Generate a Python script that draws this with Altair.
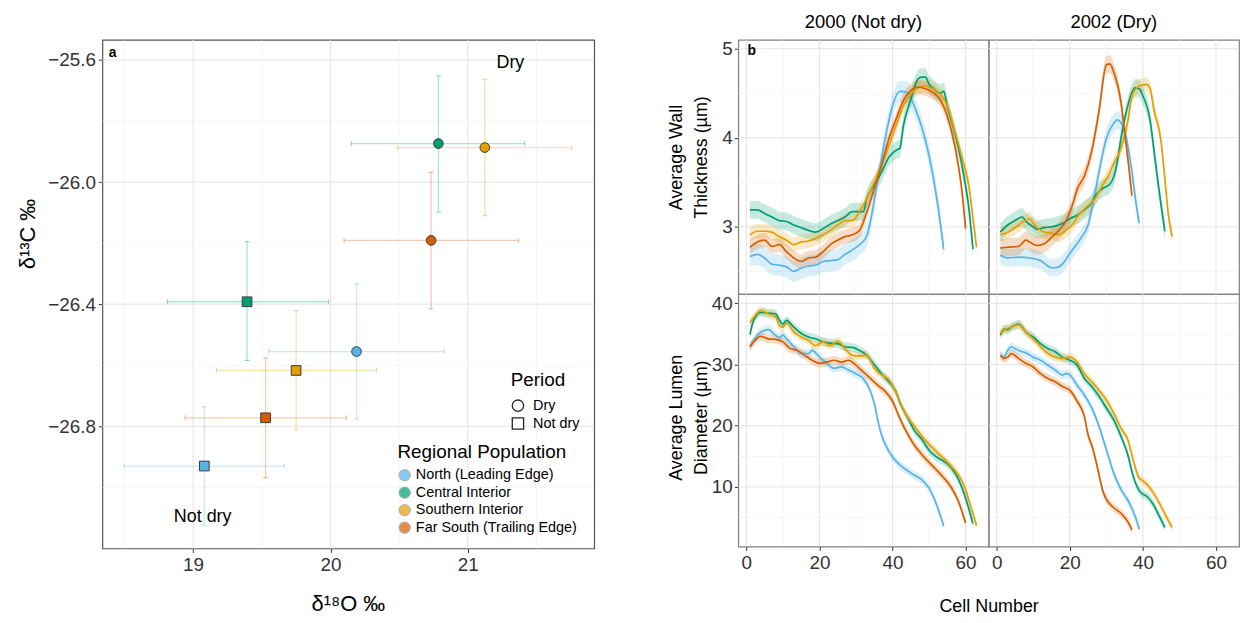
import altair as alt
import pandas as pd

FONT = "Liberation Sans"

REGIONS = ["North (Leading Edge)", "Central Interior", "Southern Interior", "Far South (Trailing Edge)"]
REGION_COLORS = ["#56B4E9", "#009E73", "#E69F00", "#D55E00"]
PERIODS = ["Dry", "Not dry"]
PERIOD_SHAPES = ["circle", "square"]

# ---------------- panel a : isotope means with error bars ----------------
ISO_REGION = REGIONS + REGIONS
ISO_PERIOD = ["Dry"] * 4 + ["Not dry"] * 4
D18O_MEAN = [20.19, 20.786, 21.124, 20.733, 19.082, 19.393, 19.75, 19.528]
D18O_LO = [19.552, 20.152, 20.49, 20.099, 18.499, 18.814, 19.171, 18.942]
D18O_HI = [20.827, 21.414, 21.755, 21.37, 19.665, 19.986, 20.335, 20.116]
D13C_MEAN = [-26.555, -25.874, -25.887, -26.191, -26.93, -26.392, -26.617, -26.772]
D13C_LO = [-26.776, -26.098, -26.110, -26.415, -27.124, -26.584, -26.812, -26.968]
D13C_HI = [-26.334, -25.652, -25.664, -25.968, -26.736, -26.195, -26.421, -26.576]

A_X_TICKS = [19, 20, 21]
A_X_MINOR = [18.5, 19.5, 20.5, 21.5]
A_Y_TICKS = [-25.6, -26.0, -26.4, -26.8]
A_Y_MINOR = [-25.8, -26.2, -26.6, -27.0]

ANN_TEXT = ["Dry", "Not dry"]
ANN_X = [21.31, 19.07]
ANN_Y = [-25.609, -27.098]

# ---------------- panel b : tracheid profiles ----------------
WT2000_NORTH_CELL = [1, 3, 5, 7, 9, 11, 13, 15, 17, 19, 21, 23, 25, 27, 29, 31, 33, 34, 36, 38, 40, 42, 44, 46, 48, 50, 52, 54]
WT2000_NORTH = [2.665, 2.69, 2.65, 2.58, 2.57, 2.55, 2.50, 2.535, 2.56, 2.57, 2.61, 2.62, 2.63, 2.69, 2.74, 2.80, 2.90, 3.07, 3.54, 3.99, 4.36, 4.52, 4.51, 4.35, 4.12, 3.80, 3.35, 2.75]
WT2000_CENTRAL_CELL = [1, 3, 5, 7, 9, 11, 13, 15, 17, 19, 21, 23, 25, 27, 29, 31, 32, 33, 35, 37, 39, 41, 42, 43, 45, 47, 48, 49, 50, 51, 53, 54, 55, 57, 59, 61, 62]
WT2000_CENTRAL = [3.19, 3.19, 3.15, 3.11, 3.07, 3.06, 3.02, 2.99, 2.96, 2.94, 2.98, 3.03, 3.07, 3.11, 3.17, 3.17, 3.17, 3.32, 3.47, 3.61, 3.78, 3.86, 3.88, 4.14, 4.43, 4.66, 4.68, 4.68, 4.60, 4.56, 4.50, 4.52, 4.35, 4.06, 3.69, 3.17, 2.75]
WT2000_SOUTH_CELL = [1, 3, 5, 7, 9, 11, 13, 15, 17, 19, 21, 23, 25, 27, 29, 31, 33, 35, 37, 39, 41, 43, 45, 47, 49, 51, 53, 55, 57, 59, 61, 62, 63]
WT2000_SOUTH = [2.91, 2.95, 2.95, 2.94, 2.89, 2.85, 2.80, 2.83, 2.84, 2.87, 2.91, 2.96, 3.02, 3.07, 3.07, 3.17, 3.32, 3.50, 3.69, 3.91, 4.14, 4.36, 4.49, 4.56, 4.58, 4.55, 4.49, 4.36, 4.08, 3.78, 3.43, 3.10, 2.77]
WT2000_FARSOUTH_CELL = [1, 3, 5, 7, 9, 11, 13, 15, 17, 19, 21, 23, 25, 27, 29, 31, 33, 35, 37, 39, 41, 43, 45, 47, 49, 51, 53, 55, 57, 59, 60]
WT2000_FARSOUTH = [2.77, 2.83, 2.85, 2.78, 2.80, 2.72, 2.65, 2.61, 2.65, 2.66, 2.72, 2.80, 2.85, 2.89, 2.91, 2.96, 3.17, 3.43, 3.69, 3.99, 4.21, 4.42, 4.53, 4.57, 4.55, 4.51, 4.43, 4.24, 3.92, 3.40, 2.98]

WT2002_NORTH_CELL = [1, 3, 6, 9, 12, 15, 16, 18, 20, 23, 25, 27, 28, 30, 32, 33, 34, 35, 36, 37, 38, 39]
WT2002_NORTH = [2.68, 2.65, 2.66, 2.65, 2.62, 2.54, 2.54, 2.58, 2.70, 2.87, 3.02, 3.40, 3.62, 3.99, 4.16, 4.20, 4.17, 4.08, 3.88, 3.62, 3.30, 3.04]
WT2002_CENTRAL_CELL = [1, 3, 5, 7, 8, 10, 11, 13, 15, 17, 19, 20, 22, 24, 26, 27, 29, 31, 32, 33, 34, 36, 37, 38, 39, 40, 42, 43, 44, 45, 46]
WT2002_CENTRAL = [2.94, 3.02, 3.07, 3.11, 3.06, 3.00, 2.97, 2.99, 3.00, 3.02, 3.06, 3.09, 3.13, 3.19, 3.27, 3.35, 3.43, 3.48, 3.56, 3.73, 3.99, 4.38, 4.51, 4.56, 4.55, 4.47, 4.19, 3.87, 3.54, 3.24, 2.95]
WT2002_SOUTH_CELL = [1, 3, 5, 7, 9, 10, 12, 13, 15, 17, 19, 21, 22, 24, 27, 29, 31, 32, 34, 36, 37, 39, 41, 42, 43, 45, 46, 47, 48]
WT2002_SOUTH = [2.91, 2.94, 2.99, 3.05, 3.09, 3.04, 2.96, 2.94, 2.93, 2.91, 2.96, 3.04, 3.11, 3.20, 3.32, 3.47, 3.61, 3.71, 3.88, 4.21, 4.47, 4.58, 4.60, 4.55, 4.32, 3.95, 3.54, 3.13, 2.89]
WT2002_FARSOUTH_CELL = [1, 3, 6, 8, 9, 11, 13, 15, 17, 19, 21, 22, 24, 26, 28, 30, 31, 32, 34, 35, 36, 37]
WT2002_FARSOUTH = [2.76, 2.77, 2.78, 2.85, 2.83, 2.79, 2.81, 2.88, 2.96, 3.07, 3.28, 3.42, 3.57, 3.85, 4.30, 4.82, 4.83, 4.74, 4.40, 4.06, 3.73, 3.35]

LD2000_NORTH_CELL = [1, 2, 4, 6, 8, 9, 10, 11, 13, 15, 17, 18, 20, 22, 24, 26, 28, 30, 32, 34, 35, 36, 37, 38, 40, 42, 44, 46, 48, 50, 52, 54]
LD2000_NORTH = [32.9, 33.9, 35.3, 35.7, 34.8, 34.4, 34.8, 34.2, 32.9, 31.8, 31.8, 32.3, 31.2, 30.2, 29.4, 29.6, 29.1, 28.5, 27.7, 25.6, 23.7, 20.8, 18.5, 17.0, 14.9, 13.6, 12.7, 11.9, 11.2, 9.8, 7.2, 3.6]
LD2000_CENTRAL_CELL = [1, 2, 4, 6, 8, 9, 10, 11, 13, 15, 17, 19, 21, 23, 25, 27, 29, 31, 33, 35, 37, 39, 41, 42, 44, 46, 48, 50, 52, 54, 56, 58, 60, 61, 62]
LD2000_CENTRAL = [34.9, 37.2, 38.5, 38.4, 38.3, 37.3, 36.6, 37.2, 36.1, 35.1, 34.5, 34.2, 33.7, 33.5, 33.4, 32.9, 32.8, 32.3, 31.5, 30.0, 28.5, 27.2, 25.5, 23.8, 21.5, 19.2, 17.8, 16.0, 14.9, 14.2, 13.2, 11.3, 8.2, 6.2, 4.0]
LD2000_SOUTH_CELL = [1, 2, 4, 6, 8, 9, 10, 11, 13, 15, 17, 19, 21, 23, 25, 27, 29, 31, 33, 35, 37, 39, 41, 43, 46, 49, 52, 56, 58, 60, 61, 63]
LD2000_SOUTH = [36.8, 37.7, 38.8, 38.3, 37.8, 36.4, 36.1, 36.8, 35.3, 34.5, 33.9, 33.1, 33.7, 33.1, 33.8, 32.6, 31.5, 31.4, 31.5, 29.4, 28.3, 27.5, 25.4, 22.6, 19.9, 17.6, 15.8, 13.4, 12.0, 9.6, 7.6, 3.7]
LD2000_FARSOUTH_CELL = [1, 2, 4, 6, 8, 10, 12, 14, 16, 18, 20, 22, 24, 26, 28, 30, 32, 34, 36, 38, 40, 42, 44, 46, 48, 50, 52, 54, 56, 58, 60]
LD2000_FARSOUTH = [32.9, 33.7, 34.6, 34.2, 34.1, 33.7, 32.6, 32.3, 31.5, 30.7, 30.2, 30.4, 30.7, 30.4, 30.7, 29.9, 28.8, 27.7, 26.6, 25.6, 24.0, 21.2, 18.8, 16.8, 15.3, 14.0, 12.8, 11.5, 10.0, 7.7, 4.1]

LD2002_NORTH_CELL = [1, 2, 3, 4, 5, 6, 8, 10, 12, 14, 16, 18, 19, 20, 22, 24, 26, 28, 30, 32, 34, 36, 38, 39]
LD2002_NORTH = [31.5, 31.2, 32.3, 32.9, 32.6, 32.3, 31.9, 31.2, 30.7, 29.9, 29.1, 28.3, 28.5, 28.3, 26.6, 25.0, 22.9, 19.9, 16.1, 12.3, 9.6, 7.7, 5.0, 3.1]
LD2002_CENTRAL_CELL = [1, 2, 3, 4, 5, 6, 7, 8, 10, 12, 14, 16, 18, 20, 22, 24, 26, 28, 30, 32, 34, 36, 37, 39, 40, 41, 43, 44, 46]
LD2002_CENTRAL = [34.8, 35.8, 35.7, 36.1, 36.4, 36.6, 36.1, 35.3, 34.5, 33.4, 32.6, 32.1, 31.2, 30.7, 29.9, 27.7, 26.4, 24.8, 22.9, 21.0, 18.3, 15.0, 12.5, 9.4, 8.8, 8.5, 7.0, 5.8, 3.4]
LD2002_SOUTH_CELL = [1, 2, 4, 6, 8, 10, 12, 14, 16, 18, 20, 22, 24, 26, 28, 30, 32, 34, 36, 37, 38, 39, 40, 41, 43, 45, 46, 48]
LD2002_SOUTH = [35.1, 35.6, 36.1, 36.5, 35.3, 34.2, 32.9, 31.8, 31.2, 31.0, 31.2, 30.4, 28.5, 27.2, 25.8, 24.2, 22.1, 19.6, 17.5, 15.2, 13.0, 11.4, 11.0, 10.5, 8.9, 6.8, 5.6, 3.4]
LD2002_FARSOUTH_CELL = [1, 2, 3, 4, 6, 8, 10, 12, 14, 16, 18, 20, 22, 24, 25, 26, 27, 28, 29, 30, 32, 34, 36, 37]
LD2002_FARSOUTH = [31.5, 31.0, 31.2, 31.8, 31.0, 30.2, 29.6, 28.5, 27.7, 27.2, 26.4, 25.8, 24.0, 21.5, 18.5, 16.8, 14.6, 12.0, 9.4, 8.0, 6.6, 5.7, 4.2, 3.0]

# half-width of the shaded confidence ribbon, in region order
WT2000_BAND = [0.12, 0.10, 0.08, 0.08]
WT2002_BAND = [0.10, 0.10, 0.08, 0.10]
LD2000_BAND = [0.7, 0.7, 0.7, 0.7]
LD2002_BAND = [0.7, 0.7, 0.7, 0.7]

B_X_TICKS = [0, 20, 40, 60]
B_X_MINOR = [10, 30, 50]
WT_TICKS = [3, 4, 5]
WT_MINOR = [2.5, 3.5, 4.5]
LD_TICKS = [10, 20, 30, 40]
LD_MINOR = [5, 15, 25, 35]

COL_TITLES = ["2000 (Not dry)", "2002 (Dry)"]
WT_TITLE = ["Average Wall", "Thickness (µm)"]
LD_TITLE = ["Average Lumen", "Diameter (µm)"]

# ------------------------------------------------------------------
col_scale = alt.Scale(domain=REGIONS, range=REGION_COLORS)
MAJOR_GRID = "#e4e4e4"
MINOR_GRID = "#f0f0f0"


def grid_layers(xmaj, xmin, ymaj, ymin, xs, ys, ax_x, ax_y):
    out = []
    for vals, w, c in [(xmin, 0.6, MINOR_GRID), (xmaj, 1.0, MAJOR_GRID)]:
        out.append(alt.Chart(pd.DataFrame({"gx": vals})).mark_rule(color=c, strokeWidth=w).encode(
            x=alt.X("gx:Q", scale=xs, axis=ax_x)))
    for vals, w, c in [(ymin, 0.6, MINOR_GRID), (ymaj, 1.0, MAJOR_GRID)]:
        out.append(alt.Chart(pd.DataFrame({"gy": vals})).mark_rule(color=c, strokeWidth=w).encode(
            y=alt.Y("gy:Q", scale=ys, axis=ax_y)))
    return out


# ---------------- panel a ----------------
df_iso = pd.DataFrame({
    "region": ISO_REGION, "population": ISO_REGION, "period": ISO_PERIOD,
    "d18o": D18O_MEAN, "x_lo": D18O_LO, "x_hi": D18O_HI,
    "d13c": D13C_MEAN, "y_lo": D13C_LO, "y_hi": D13C_HI,
})
xs_a = alt.Scale(domain=[18.34, 21.92], nice=False, zero=False)
ys_a = alt.Scale(domain=[-27.2, -25.534], nice=False, zero=False)
ax_xa = alt.Axis(values=A_X_TICKS, format="d", title="δ¹⁸O ‰", grid=False, domain=False,
                 tickSize=4, tickColor="#333333", labelFontSize=19, labelColor="#333333", labelPadding=3,
                 titleFontSize=22, titleFontWeight="normal", titleColor="black",
                 titleX=247, titleY=55, titleBaseline="middle", titleAlign="center")
ax_ya = alt.Axis(values=A_Y_TICKS, format=".1f", title="δ¹³C ‰", grid=False, domain=False,
                 tickSize=4, tickColor="#333333", labelFontSize=19, labelColor="#333333", labelPadding=3,
                 titleFontSize=22, titleFontWeight="normal", titleColor="black",
                 titleX=-75, titleY=195, titleAngle=270, titleBaseline="middle", titleAlign="center")

Xa = lambda f: alt.X(f, scale=xs_a, axis=ax_xa)
Ya = lambda f: alt.Y(f, scale=ys_a, axis=ax_ya)
col_enc = alt.Color("region:N", scale=col_scale, legend=None)

hbar = alt.Chart(df_iso).mark_rule(strokeWidth=1.3, opacity=0.3).encode(
    x=Xa("x_lo:Q"), x2="x_hi:Q", y=Ya("d13c:Q"), color=col_enc)
vbar = alt.Chart(df_iso).mark_rule(strokeWidth=1.3, opacity=0.3).encode(
    y=Ya("y_lo:Q"), y2="y_hi:Q", x=Xa("d18o:Q"), color=col_enc)
hcap = alt.Chart(df_iso).transform_fold(["x_lo", "x_hi"], as_=["end", "xv"]).mark_tick(
    orient="vertical", size=5, thickness=1.2, opacity=0.4).encode(
    x=Xa("xv:Q"), y=Ya("d13c:Q"), color=col_enc)
vcap = alt.Chart(df_iso).transform_fold(["y_lo", "y_hi"], as_=["end", "yv"]).mark_tick(
    orient="horizontal", size=5, thickness=1.2, opacity=0.4).encode(
    x=Xa("d18o:Q"), y=Ya("yv:Q"), color=col_enc)

pts = alt.Chart(df_iso).mark_point(filled=True, size=95, stroke="#3a3a3a", strokeWidth=1,
                                   opacity=1, strokeOpacity=1).encode(
    x=Xa("d18o:Q"), y=Ya("d13c:Q"),
    fill=alt.Fill("population:N", sort=REGIONS, scale=alt.Scale(range=REGION_COLORS),
                  legend=alt.Legend(title="Regional Population", orient="none", legendX=297, legendY=406,
                                    symbolType="circle", symbolSize=130, symbolOpacity=0.7,
                                    symbolStrokeColor="#8a8a8a", symbolStrokeWidth=1,
                                    labelFontSize=14.5, titleFontSize=19, titleFontWeight="normal",
                                    labelColor="black", titleColor="black", rowPadding=1.6,
                                    titlePadding=6, labelOffset=4, labelLimit=400)),
    shape=alt.Shape("period:N", sort=PERIODS, scale=alt.Scale(range=PERIOD_SHAPES),
                    legend=alt.Legend(title="Period", orient="none", legendX=411, legendY=333,
                                      symbolSize=130, symbolFillColor="white", symbolStrokeColor="#222222",
                                      symbolStrokeWidth=1.3, labelFontSize=14.5, titleFontSize=19,
                                      titleFontWeight="normal", labelColor="black", titleColor="black",
                                      rowPadding=0, titlePadding=9, labelOffset=8, labelLimit=400)),
)

ann = alt.Chart(pd.DataFrame({"t": ANN_TEXT, "x": ANN_X, "y": ANN_Y})).mark_text(
    fontSize=18, color="black", align="center", baseline="middle").encode(
    x=Xa("x:Q"), y=Ya("y:Q"), text="t:N")
lab_a = alt.Chart(pd.DataFrame({"t": ["a"], "x": [18.414], "y": [-25.576]})).mark_text(
    fontSize=14, fontWeight="bold", color="black", align="center", baseline="middle").encode(
    x=Xa("x:Q"), y=Ya("y:Q"), text="t:N")

panel_a = alt.layer(
    *grid_layers(A_X_TICKS, A_X_MINOR, A_Y_TICKS, A_Y_MINOR, xs_a, ys_a, ax_xa, ax_ya),
    hbar, vbar, hcap, vcap, pts, ann, lab_a,
).properties(width=495, height=512, view=alt.ViewBackground(stroke="#555555", strokeWidth=1.2))


# ---------------- panel b ----------------
def series_df(cells_vals, bands):
    rows = []
    for reg, (cells, vals), bw in zip(REGIONS, cells_vals, bands):
        for c, v in zip(cells, vals):
            rows.append({"region": reg, "cell": c, "val": v, "lo": v - bw, "hi": v + bw})
    return pd.DataFrame(rows)


df_wt2000 = series_df([(WT2000_NORTH_CELL, WT2000_NORTH), (WT2000_CENTRAL_CELL, WT2000_CENTRAL),
                       (WT2000_SOUTH_CELL, WT2000_SOUTH), (WT2000_FARSOUTH_CELL, WT2000_FARSOUTH)], WT2000_BAND)
df_wt2002 = series_df([(WT2002_NORTH_CELL, WT2002_NORTH), (WT2002_CENTRAL_CELL, WT2002_CENTRAL),
                       (WT2002_SOUTH_CELL, WT2002_SOUTH), (WT2002_FARSOUTH_CELL, WT2002_FARSOUTH)], WT2002_BAND)
df_ld2000 = series_df([(LD2000_NORTH_CELL, LD2000_NORTH), (LD2000_CENTRAL_CELL, LD2000_CENTRAL),
                       (LD2000_SOUTH_CELL, LD2000_SOUTH), (LD2000_FARSOUTH_CELL, LD2000_FARSOUTH)], LD2000_BAND)
df_ld2002 = series_df([(LD2002_NORTH_CELL, LD2002_NORTH), (LD2002_CENTRAL_CELL, LD2002_CENTRAL),
                       (LD2002_SOUTH_CELL, LD2002_SOUTH), (LD2002_FARSOUTH_CELL, LD2002_FARSOUTH)], LD2002_BAND)

xs_b = alt.Scale(domain=[-2.2, 66.3], nice=False, zero=False)
ys_wt = alt.Scale(domain=[2.244, 5.1], nice=False, zero=False)
ys_ld = alt.Scale(domain=[0.27, 41.5], nice=False, zero=False)


def b_panel(df, ys, yticks, yminor, left, bottom, ytitle=None, ytitle_y=0, col_title=None,
            xtitle=False, width=252, height=256, tag=None):
    if bottom:
        ax_x = alt.Axis(values=B_X_TICKS, format="d", grid=False, domain=False, tickSize=4,
                        tickColor="#333333", labelFontSize=19, labelColor="#333333", labelPadding=3,
                        title="Cell Number" if xtitle else None,
                        titleFontSize=18, titleFontWeight="normal", titleColor="black",
                        titleX=width, titleY=60, titleBaseline="middle", titleAlign="center")
    else:
        ax_x = None
    if left:
        ax_y = alt.Axis(values=yticks, format="d", grid=False, domain=False, tickSize=4,
                        tickColor="#333333", labelFontSize=19, labelColor="#333333", labelPadding=2,
                        title=ytitle, titleFontSize=18, titleFontWeight="normal", titleColor="black",
                        titleX=-62, titleY=ytitle_y, titleAngle=270, titleBaseline="middle",
                        titleAlign="center", titleLineHeight=25)
    else:
        ax_y = None
    X = lambda f: alt.X(f, scale=xs_b, axis=ax_x)
    Y = lambda f: alt.Y(f, scale=ys, axis=ax_y)
    band = alt.Chart(df).mark_area(opacity=0.22, interpolate="monotone").encode(
        x=X("cell:Q"), y=Y("lo:Q"), y2="hi:Q", color=col_enc, detail="region:N")
    line = alt.Chart(df).mark_line(strokeWidth=1.7, interpolate="monotone").encode(
        x=X("cell:Q"), y=Y("val:Q"), color=col_enc, detail="region:N")
    layers = grid_layers(B_X_TICKS, B_X_MINOR, yticks, yminor, xs_b, ys, ax_x, ax_y) + [band, line]
    if tag is not None:
        layers.append(alt.Chart(pd.DataFrame({"t": [tag[0]], "x": [tag[1]], "y": [tag[2]]})).mark_text(
            fontSize=14, fontWeight="bold", color="black", align="center", baseline="middle").encode(
            x=X("x:Q"), y=Y("y:Q"), text="t:N"))
    props = dict(width=width, height=height, view=alt.ViewBackground(stroke="#808080", strokeWidth=1.2))
    if col_title:
        props["title"] = alt.TitleParams(col_title, fontSize=18.5, fontWeight="normal", color="black",
                                         offset=8, anchor="middle")
    return alt.layer(*layers).properties(**props)


tl = b_panel(df_wt2000, ys_wt, WT_TICKS, WT_MINOR, True, False, WT_TITLE, 118, COL_TITLES[0],
             height=256, tag=("b", 1.5, 4.97))
tr = b_panel(df_wt2002, ys_wt, WT_TICKS, WT_MINOR, False, False, None, 0, COL_TITLES[1], height=256)
bl = b_panel(df_ld2000, ys_ld, LD_TICKS, LD_MINOR, True, True, LD_TITLE, 124, None, xtitle=True, height=254)
br = b_panel(df_ld2002, ys_ld, LD_TICKS, LD_MINOR, False, True, None, 0, None, height=254)

panel_b = alt.concat(tl, tr, bl, br, columns=2, spacing=0, bounds="flush").resolve_scale(
    x="independent", y="independent")

chart = alt.hconcat(panel_a, panel_b, spacing=145, bounds="flush").resolve_scale(
    x="independent", y="independent"
).properties(
    padding={"left": 8, "top": 2, "right": 0, "bottom": 0}
).configure(font=FONT)

chart.save("out.html", embed_options={"renderer": "svg", "actions": False})
